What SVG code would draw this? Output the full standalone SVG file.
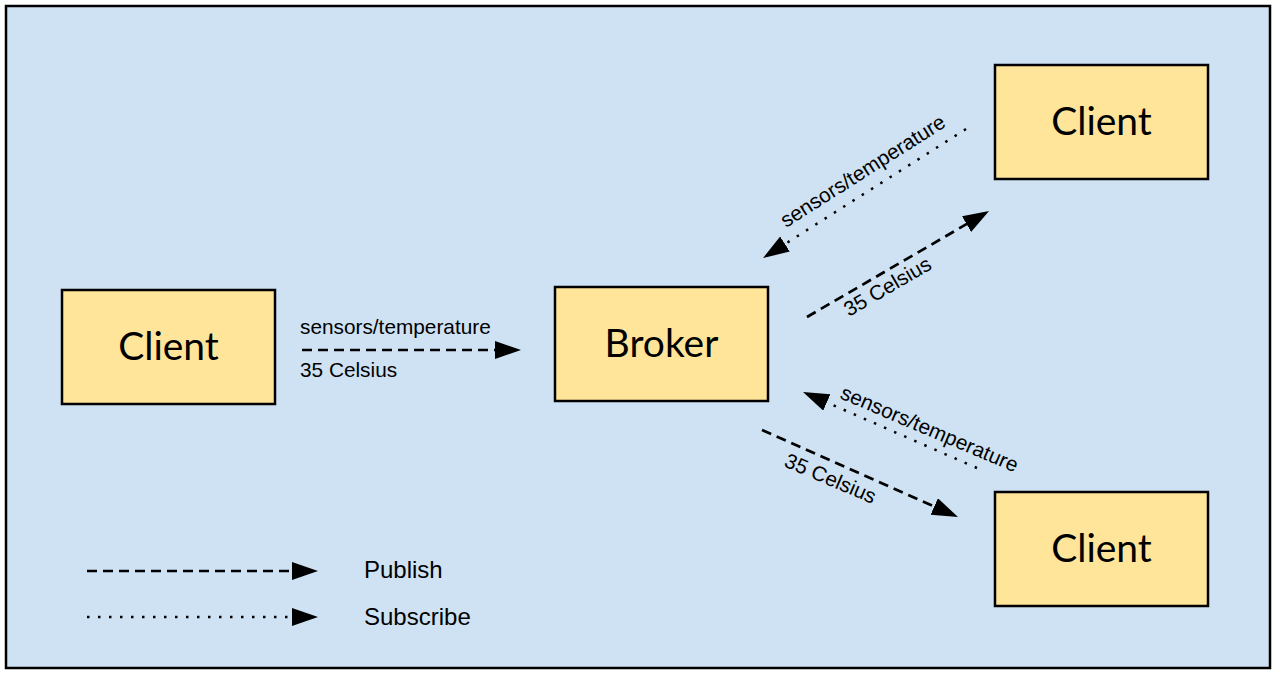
<svg xmlns="http://www.w3.org/2000/svg" width="1276" height="674" viewBox="0 0 1276 674">
<defs>
<style>
.node rect{fill:#ffe599;stroke:#000;stroke-width:2.5}
.node text{font-family:Lato,"Open Sans",sans-serif;font-size:39px;fill:#000;text-anchor:middle}
.pub{stroke:#000;stroke-width:2.7;fill:none;stroke-dasharray:10 6}
.sub{stroke:#000;stroke-width:2.5;fill:none;stroke-dasharray:2.5 8.5}
.lbl{font-family:"Liberation Sans",Arial,sans-serif;font-size:20.8px;fill:#000}
.leg{font-family:"Liberation Sans",Arial,sans-serif;font-size:24px;fill:#000}
</style>
<marker id="ah" markerUnits="userSpaceOnUse" markerWidth="28" markerHeight="20" refX="2" refY="9" orient="auto" viewBox="0 0 28 20">
<path d="M0,0 L26,9 L0,18 Z" fill="#000"/>
</marker>
</defs>
<rect x="6" y="6" width="1264" height="662" fill="#cfe2f3" stroke="#000" stroke-width="2.5"/>
<g id="client-left" class="node">
<rect x="62" y="290" width="213" height="114"/>
<text x="168.5" y="360">Client</text>
</g>
<g id="broker" class="node">
<rect x="555" y="287" width="213" height="114"/>
<text x="661.5" y="357">Broker</text>
</g>
<g id="client-top" class="node">
<rect x="995" y="65" width="213" height="114"/>
<text x="1101.5" y="135">Client</text>
</g>
<g id="client-bottom" class="node">
<rect x="995" y="492" width="213" height="114"/>
<text x="1101.5" y="562">Client</text>
</g>
<g id="connectors">
<line class="pub" x1="302" y1="350" x2="497" y2="350" marker-end="url(#ah)"/>
<line class="pub" x1="807" y1="317" x2="968.3" y2="223.1" marker-end="url(#ah)"/>
<line class="sub" x1="966" y1="129" x2="783.3" y2="245.1" marker-end="url(#ah)"/>
<line class="sub" x1="977" y1="468" x2="825" y2="401.6" marker-end="url(#ah)"/>
<line class="pub" x1="762" y1="430" x2="936.1" y2="507.3" marker-end="url(#ah)"/>
<line class="pub" x1="87" y1="571" x2="294" y2="571" marker-end="url(#ah)"/>
<line class="sub" x1="87" y1="617" x2="294" y2="617" marker-end="url(#ah)"/>
</g>
<g id="labels">
<text class="lbl" x="300" y="334">sensors/temperature</text>
<text class="lbl" x="300" y="377">35 Celsius</text>
<text class="lbl" transform="translate(786,228) rotate(-32.4)">sensors/temperature</text>
<text class="lbl" transform="translate(849,317) rotate(-30.2)">35 Celsius</text>
<text class="lbl" transform="translate(839,398) rotate(23)">sensors/temperature</text>
<text class="lbl" transform="translate(783,466) rotate(23)">35 Celsius</text>
</g>
<g id="legend">
<text class="leg" x="364" y="578">Publish</text>
<text class="leg" x="364" y="625">Subscribe</text>
</g>
</svg>
